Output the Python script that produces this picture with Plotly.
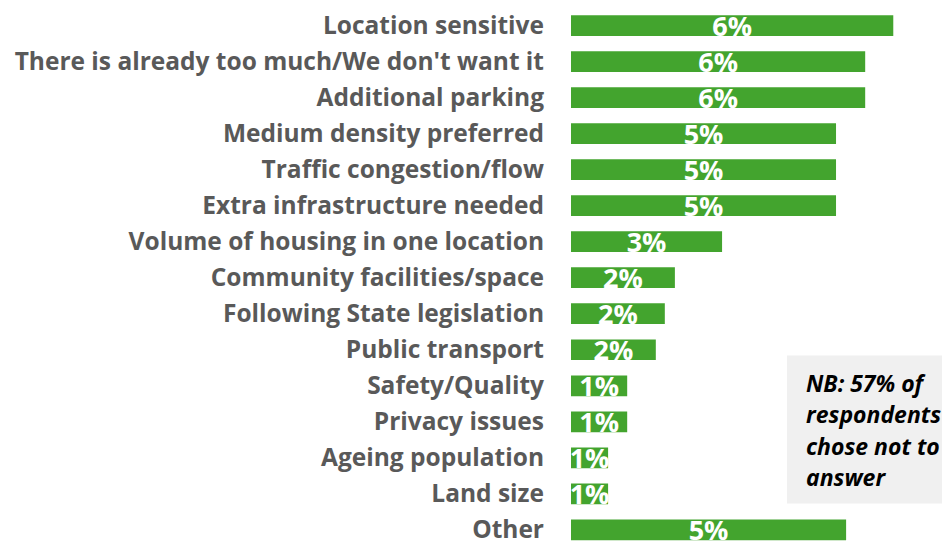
import plotly.graph_objects as go

categories = [
    "Location sensitive",
    "There is already too much/We don't want it",
    "Additional parking",
    "Medium density preferred",
    "Traffic congestion/flow",
    "Extra infrastructure needed",
    "Volume of housing in one location",
    "Community facilities/space",
    "Following State legislation",
    "Public transport",
    "Safety/Quality",
    "Privacy issues",
    "Ageing population",
    "Land size",
    "Other",
]
values = [6.08, 5.55, 5.55, 5.0, 5.0, 5.0, 2.85, 1.96, 1.77, 1.6, 1.06, 1.06, 0.7, 0.7, 5.19]
labels = ["6%", "6%", "6%", "5%", "5%", "5%", "3%", "2%", "2%", "2%", "1%", "1%", "1%", "1%", "5%"]
note_lines = ["NB: 57% of", "respondents", "chose not to", "answer"]

# page body has an 8px default margin; size figure so it fits the 950x545 window
W, H = 942, 537
OFF = 8
L = 571 - OFF

fig = go.Figure(go.Bar(
    x=values, y=categories, orientation="h",
    marker=dict(color="#43A42E", line=dict(width=0)),
    text=labels, textposition="inside", insidetextanchor="middle",
    textangle=0, constraintext="none",
    textfont=dict(family="Open Sans", size=27, color="white", weight="bold"),
    cliponaxis=False,
))

top_c, pitch = 20.7 - OFF, 36.5
r_top = -top_c / pitch
r_bot = (H - top_c) / pitch

def px_x(x):
    return (x - OFF - L) / (W - L)

def px_y(y):
    return 1 - (y - OFF) / H

fig.update_layout(
    width=W, height=H,
    margin=dict(l=L, r=0, t=0, b=0),
    plot_bgcolor="white", paper_bgcolor="white",
    bargap=0.425,
    showlegend=False,
    xaxis=dict(range=[0, 7.15], visible=False, fixedrange=True),
    yaxis=dict(
        range=[r_bot, r_top], type="category",
        tickfont=dict(family="Open Sans", size=24.5, color="#595959", weight="bold"),
        ticklabelstandoff=26, showgrid=False, zeroline=False, showline=False,
        ticks="",
    ),
    shapes=[dict(
        type="rect", xref="paper", yref="paper",
        x0=px_x(787), x1=px_x(958), y0=px_y(505), y1=px_y(355),
        fillcolor="#F0F0F0", line=dict(width=0), layer="below",
    )],
)
for i, line in enumerate(note_lines):
    fig.add_annotation(
        xref="paper", yref="paper",
        x=px_x(804), y=px_y(383 + 31.7 * i),
        xanchor="left", yanchor="middle", align="left",
        text="<i>" + line + "</i>", showarrow=False,
        font=dict(family="Open Sans", size=23, color="#000000", weight="bold"),
    )

fig.write_html("out.html")
